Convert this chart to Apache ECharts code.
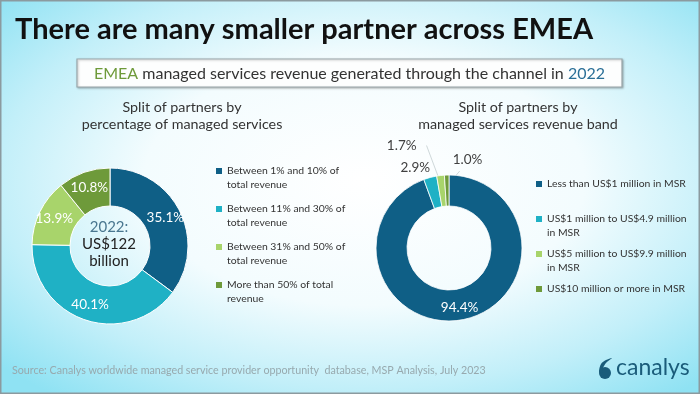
<!DOCTYPE html>
<html>
<head>
<meta charset="utf-8">
<script src="https://cdn.jsdelivr.net/npm/echarts@6/dist/echarts.min.js"></script>
<style>html,body{margin:0;padding:0;}#c{width:700px;height:394px;}</style>
</head>
<body>
<div id="c"></div>
<script>
// ---- data ----
var leftCategories = ['Between 1% and 10% of total revenue', 'Between 11% and 30% of total revenue', 'Between 31% and 50% of total revenue', 'More than 50% of total revenue'];
var leftValues = [35.1, 40.1, 13.9, 10.8];
var leftLegendLines = [['Between 1% and 10% of', 'total revenue'], ['Between 11% and 30% of', 'total revenue'], ['Between 31% and 50% of', 'total revenue'], ['More than 50% of total', 'revenue']];
var rightCategories = ['Less than US$1 million in MSR', 'US$1 million to US$4.9 million in MSR', 'US$5 million to US$9.9 million in MSR', 'US$10 million or more in MSR'];
var rightValues = [94.4, 2.9, 1.7, 1.0];
var rightLegendLines = [['Less than US$1 million in MSR', ' '], ['US$1 million to US$4.9 million', 'in MSR'], ['US$5 million to US$9.9 million', 'in MSR'], ['US$10 million or more in MSR']];
var colors = ['#0f5f86', '#1fb1c5', '#a8d46b', '#6e9a3a'];
var FONT = 'Lato';

var chart = echarts.init(document.getElementById('c'), null, {renderer: 'canvas'});

function legendRich(prefix) {
  var r = {
    t: {fontSize: 10.4, color: '#333', fontFamily: FONT, lineHeight: 14, padding: [0, 0, 0, 5]},
    s: {width: 6, height: 6, lineHeight: 14}
  };
  colors.forEach(function (c, i) {
    r[prefix + i] = {width: 6, height: 6, backgroundColor: c, verticalAlign: 'middle', lineHeight: 14};
  });
  return r;
}
function legendFormatter(cats, lines, prefix) {
  return function (name) {
    var i = cats.indexOf(name);
    var ls = lines[i];
    return ls.map(function (l, k) {
      return (k === 0 ? '{' + prefix + i + '|}' : '{s|}') + '{t|' + l + '}';
    }).join('\n');
  };
}

var option = {
  backgroundColor: '#ffffff',
  color: colors,
  title: {
    text: 'There are many smaller partner across EMEA',
    left: 10, top: 10,
    textStyle: {fontFamily: FONT, fontWeight: 'bold', fontSize: 29, color: '#111'}
  },
  legend: [{
    orient: 'vertical', left: 210, top: 165, itemGap: 12, padding: 0,
    itemWidth: 0, itemHeight: 0, selectedMode: false,
    data: leftCategories,
    formatter: legendFormatter(leftCategories, leftLegendLines, 'm'),
    textStyle: {rich: legendRich('m')}
  }, {
    orient: 'vertical', left: 530, top: 178, itemGap: 9, padding: 0,
    itemWidth: 0, itemHeight: 0, selectedMode: false,
    data: rightCategories,
    formatter: legendFormatter(rightCategories, rightLegendLines, 'n'),
    textStyle: {rich: legendRich('n')}
  }],
  series: [{
    type: 'pie',
    center: [110, 246], radius: [40, 78],
    startAngle: 90, clockwise: true,
    avoidLabelOverlap: false,
    itemStyle: {borderColor: '#ffffff', borderWidth: 1},
    label: {show: true, position: 'inside', color: '#ffffff', fontSize: 13.5, fontFamily: FONT,
      formatter: function (p) { return p.value.toFixed(1) + '%'; }},
    labelLine: {show: false},
    emphasis: {disabled: true},
    data: leftCategories.map(function (n, i) { return {name: n, value: leftValues[i]}; })
  }, {
    type: 'pie',
    center: [449, 248], radius: [42, 73],
    startAngle: 90, clockwise: true,
    avoidLabelOverlap: false,
    itemStyle: {borderColor: '#ffffff', borderWidth: 0.8},
    label: {show: true, position: 'outside', color: '#404040', fontSize: 13.5, fontFamily: FONT,
      formatter: function (p) { return p.value.toFixed(1) + '%'; }},
    labelLine: {show: true, length: 10, length2: 5, lineStyle: {color: '#cfd8da', width: 1}},
    labelLayout: function (p) {
      var pts = p.labelLinePoints;
      if (!pts) return {};
      var x0 = pts[0][0], y0 = pts[0][1];
      if (p.dataIndex === 1) {
        return {x: x0, y: y0 - 10, align: 'right', verticalAlign: 'middle', labelLinePoints: [[x0, y0], [x0, y0], [x0, y0]]};
      }
      if (p.dataIndex === 2) {
        return {x: x0 - 24, y: y0 - 30, align: 'right', verticalAlign: 'middle', labelLinePoints: [[x0 - 2, y0 + 2], [x0 - 14, y0 - 30], [x0 - 14, y0 - 30]]};
      }
      if (p.dataIndex === 3) {
        return {x: x0 + 6, y: y0 - 15, align: 'left', verticalAlign: 'middle', labelLinePoints: [[x0 + 2, y0 + 9], [x0 + 13, y0 - 4], [x0 + 13, y0 - 4]]};
      }
      return {};
    },
    emphasis: {disabled: true},
    data: rightCategories.map(function (n, i) {
      var d = {name: n, value: rightValues[i]};
      if (i === 0) { d.label = {position: 'inside', color: '#ffffff'}; d.labelLine = {show: false}; }
      return d;
    })
  }],
  graphic: [
    {type: 'rect', silent: true, z: -10, x: 0, y: 0, scaleX: 700 / 394, scaleY: 1,
      shape: {x: 0, y: 0, width: 394, height: 394},
      style: {fill: {type: 'radial', x: 0.52, y: 0.46, r: 0.7, colorStops: [
        {offset: 0, color: '#ffffff'},
        {offset: 0.45, color: '#f3fcfe'},
        {offset: 0.75, color: '#c2eff9'},
        {offset: 1, color: '#8fe2f3'}
      ]}}},
    {type: 'rect', shape: {x: 0.75, y: 0.75, width: 698.5, height: 392.5}, style: {fill: 'none', stroke: '#8b9a9f', lineWidth: 1.5}, silent: true, z: 100},
    {type: 'rect', shape: {x: 77, y: 59, width: 545, height: 28}, style: {fill: '#fdfefe', stroke: '#9aa6a9', lineWidth: 1.2,
      shadowBlur: 2, shadowColor: 'rgba(0,0,0,0.25)', shadowOffsetX: 1, shadowOffsetY: 1}, silent: true},
    {type: 'text', x: 349.5, y: 73.5, silent: true, style: {
      text: '{g|EMEA} managed services revenue generated through the channel in {b|2022}',
      align: 'center', verticalAlign: 'middle', fontFamily: FONT, fontSize: 16, fill: '#333',
      rich: {g: {fill: '#6e9a3a', fontSize: 16, fontFamily: FONT}, b: {fill: '#2a6f97', fontSize: 16, fontFamily: FONT}}
    }},
    {type: 'text', x: 182, y: 116, silent: true, style: {
      text: 'Split of partners by\npercentage of managed services', align: 'center', verticalAlign: 'middle',
      fontFamily: FONT, fontSize: 14.3, lineHeight: 17, fill: '#333'}},
    {type: 'text', x: 518, y: 116, silent: true, style: {
      text: 'Split of partners by\nmanaged services revenue band', align: 'center', verticalAlign: 'middle',
      fontFamily: FONT, fontSize: 14.3, lineHeight: 17, fill: '#333'}},
    {type: 'text', x: 109, y: 244, silent: true, z: 10, style: {
      text: '{a|2022:}\n{b|US$122}\n{b|billion}', align: 'center', verticalAlign: 'middle',
      rich: {a: {fill: '#4a7790', fontSize: 15, fontFamily: FONT, lineHeight: 17}, b: {fill: '#222', fontSize: 15, fontFamily: FONT, lineHeight: 17}}}},
    {type: 'text', x: 12, y: 371, silent: true, style: {
      text: 'Source: Canalys worldwide managed service provider opportunity  database, MSP Analysis, July 2023',
      align: 'left', verticalAlign: 'middle', fontFamily: FONT, fontSize: 10.7, fill: '#97a9ae'}},
    {type: 'circle', silent: true, shape: {cx: 605, cy: 373, r: 6}, style: {fill: '#1a5c7a'}},
    {type: 'polygon', silent: true, shape: {points: [[599, 372], [601, 364], [606, 360], [612, 358], [606, 363], [603, 368], [602, 373]], smooth: 0.3},
      style: {fill: '#1a5c7a'}},
    {type: 'text', x: 616, y: 368, silent: true, style: {
      text: 'canalys', align: 'left', verticalAlign: 'middle', fontFamily: FONT, fontSize: 23, fill: '#1a5c7a'}}
  ]
};
chart.setOption(option);
</script>
</body>
</html>
